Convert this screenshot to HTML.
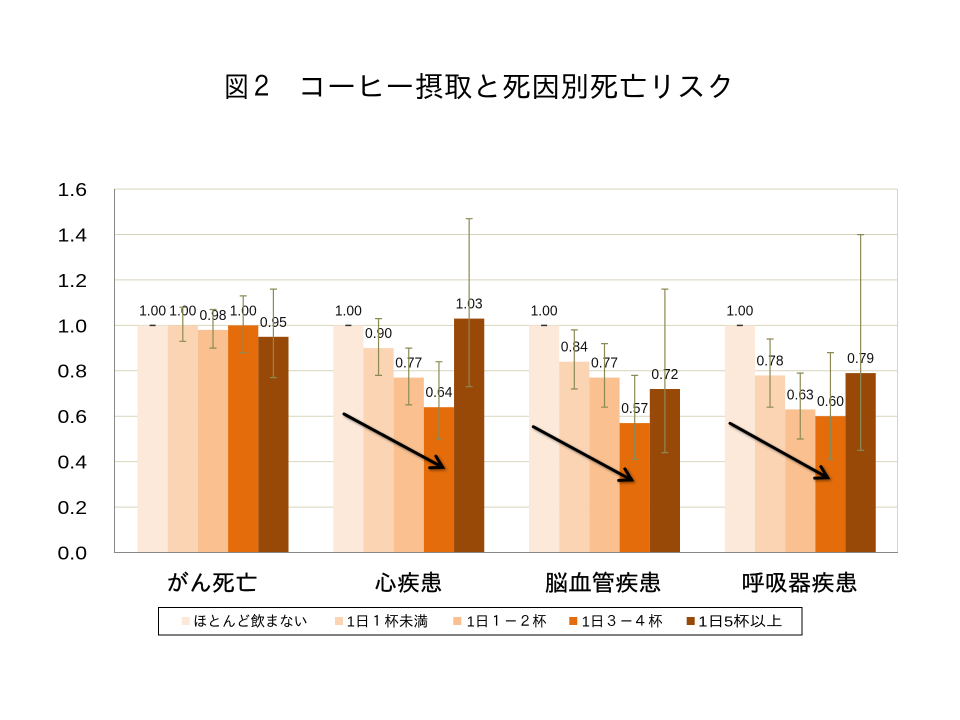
<!DOCTYPE html>
<html>
<head>
<meta charset="utf-8">
<style>
html,body{margin:0;padding:0;background:#fff;}
svg{display:block;}
.jp{font-family:"Liberation Sans","IPAGothic","Noto Sans CJK JP",sans-serif;}
.num{font-family:"Liberation Sans",sans-serif;}
</style>
</head>
<body>
<svg width="960" height="720" viewBox="0 0 960 720" xmlns="http://www.w3.org/2000/svg">
<defs>
<filter id="sh" x="-20%" y="-20%" width="140%" height="140%">
<feDropShadow dx="1.5" dy="1.5" stdDeviation="1.2" flood-color="#000" flood-opacity="0.45"/>
</filter>
</defs>
<rect width="960" height="720" fill="#fff"/>

<!-- title -->
<text class="jp" x="224" y="97" font-size="29" textLength="50" lengthAdjust="spacingAndGlyphs" fill="#000">図２</text>
<text class="jp" x="298" y="97" font-size="29" textLength="437" lengthAdjust="spacingAndGlyphs" fill="#000">コーヒー摂取と死因別死亡リスク</text>

<!-- gridlines -->
<g stroke="#D9D4BC" stroke-width="1">
<line x1="114" y1="189.1" x2="897.5" y2="189.1"/>
<line x1="114" y1="234.5" x2="897.5" y2="234.5"/>
<line x1="114" y1="279.9" x2="897.5" y2="279.9"/>
<line x1="114" y1="325.4" x2="897.5" y2="325.4"/>
<line x1="114" y1="370.8" x2="897.5" y2="370.8"/>
<line x1="114" y1="416.2" x2="897.5" y2="416.2"/>
<line x1="114" y1="461.6" x2="897.5" y2="461.6"/>
<line x1="114" y1="507.1" x2="897.5" y2="507.1"/>
<line x1="897.5" y1="189.1" x2="897.5" y2="552.5"/>
</g>

<!-- y tick labels -->
<g class="num" font-size="18.5" fill="#000" text-anchor="end">
<text x="87" y="196" textLength="29.5" lengthAdjust="spacingAndGlyphs">1.6</text>
<text x="87" y="241.4" textLength="29.5" lengthAdjust="spacingAndGlyphs">1.4</text>
<text x="87" y="286.8" textLength="29.5" lengthAdjust="spacingAndGlyphs">1.2</text>
<text x="87" y="332.3" textLength="29.5" lengthAdjust="spacingAndGlyphs">1.0</text>
<text x="87" y="377.7" textLength="29.5" lengthAdjust="spacingAndGlyphs">0.8</text>
<text x="87" y="423.1" textLength="29.5" lengthAdjust="spacingAndGlyphs">0.6</text>
<text x="87" y="468.5" textLength="29.5" lengthAdjust="spacingAndGlyphs">0.4</text>
<text x="87" y="514" textLength="29.5" lengthAdjust="spacingAndGlyphs">0.2</text>
<text x="87" y="559.4" textLength="29.5" lengthAdjust="spacingAndGlyphs">0.0</text>
</g>

<!-- bars -->
<g>
<rect x="137.5" y="325.4" width="30.2" height="227.1" fill="#FDE9D9"/>
<rect x="167.7" y="325.4" width="30.2" height="227.1" fill="#FBD4B4"/>
<rect x="197.9" y="329.9" width="30.2" height="222.6" fill="#FAC090"/>
<rect x="228.1" y="325.4" width="30.2" height="227.1" fill="#E46C0A"/>
<rect x="258.3" y="336.8" width="30.2" height="215.7" fill="#984807"/>

<rect x="333.25" y="325.4" width="30.2" height="227.1" fill="#FDE9D9"/>
<rect x="363.45" y="348.1" width="30.2" height="204.4" fill="#FBD4B4"/>
<rect x="393.65" y="377.6" width="30.2" height="174.9" fill="#FAC090"/>
<rect x="423.85" y="407.2" width="30.2" height="145.3" fill="#E46C0A"/>
<rect x="454.05" y="318.6" width="30.2" height="233.9" fill="#984807"/>

<rect x="529" y="325.4" width="30.2" height="227.1" fill="#FDE9D9"/>
<rect x="559.2" y="361.7" width="30.2" height="190.8" fill="#FBD4B4"/>
<rect x="589.4" y="377.6" width="30.2" height="174.9" fill="#FAC090"/>
<rect x="619.6" y="423.1" width="30.2" height="129.4" fill="#E46C0A"/>
<rect x="649.8" y="389.0" width="30.2" height="163.5" fill="#984807"/>

<rect x="724.75" y="325.4" width="30.2" height="227.1" fill="#FDE9D9"/>
<rect x="754.95" y="375.4" width="30.2" height="177.1" fill="#FBD4B4"/>
<rect x="785.15" y="409.4" width="30.2" height="143.1" fill="#FAC090"/>
<rect x="815.35" y="416.2" width="30.2" height="136.3" fill="#E46C0A"/>
<rect x="845.55" y="373.1" width="30.2" height="179.4" fill="#984807"/>
</g>

<!-- axes -->
<g stroke="#888888" stroke-width="1">
<line x1="114.5" y1="189" x2="114.5" y2="553"/>
<line x1="114" y1="552.5" x2="898" y2="552.5"/>
</g>

<!-- data labels -->
<g class="num" font-size="14.5" fill="#111" text-anchor="middle">
<text x="152.6" y="315.4" textLength="27" lengthAdjust="spacingAndGlyphs">1.00</text>
<text x="182.8" y="315.4" textLength="27" lengthAdjust="spacingAndGlyphs">1.00</text>
<text x="213" y="319.9" textLength="27" lengthAdjust="spacingAndGlyphs">0.98</text>
<text x="243.2" y="315.4" textLength="27" lengthAdjust="spacingAndGlyphs">1.00</text>
<text x="273.4" y="326.8" textLength="27" lengthAdjust="spacingAndGlyphs">0.95</text>

<text x="348.35" y="315.4" textLength="27" lengthAdjust="spacingAndGlyphs">1.00</text>
<text x="378.55" y="338.1" textLength="27" lengthAdjust="spacingAndGlyphs">0.90</text>
<text x="408.75" y="367.6" textLength="27" lengthAdjust="spacingAndGlyphs">0.77</text>
<text x="438.95" y="397.2" textLength="27" lengthAdjust="spacingAndGlyphs">0.64</text>
<text x="469.15" y="308.6" textLength="27" lengthAdjust="spacingAndGlyphs">1.03</text>

<text x="544.1" y="315.4" textLength="27" lengthAdjust="spacingAndGlyphs">1.00</text>
<text x="574.3" y="351.7" textLength="27" lengthAdjust="spacingAndGlyphs">0.84</text>
<text x="604.5" y="367.6" textLength="27" lengthAdjust="spacingAndGlyphs">0.77</text>
<text x="634.7" y="413.1" textLength="27" lengthAdjust="spacingAndGlyphs">0.57</text>
<text x="664.9" y="379" textLength="27" lengthAdjust="spacingAndGlyphs">0.72</text>

<text x="739.85" y="315.4" textLength="27" lengthAdjust="spacingAndGlyphs">1.00</text>
<text x="770.05" y="365.4" textLength="27" lengthAdjust="spacingAndGlyphs">0.78</text>
<text x="800.25" y="399.4" textLength="27" lengthAdjust="spacingAndGlyphs">0.63</text>
<text x="830.45" y="406.2" textLength="27" lengthAdjust="spacingAndGlyphs">0.60</text>
<text x="860.65" y="363.1" textLength="27" lengthAdjust="spacingAndGlyphs">0.79</text>
</g>

<!-- error bars -->
<g stroke="#8B8A55" stroke-width="1.2" fill="none">
<path d="M182.8 307.2V341.3M179.3 307.2H186.3M179.3 341.3H186.3"/>
<path d="M213 309.5V348.1M209.5 309.5H216.5M209.5 348.1H216.5"/>
<path d="M243.2 295.9V352.6M239.7 295.9H246.7M239.7 352.6H246.7"/>
<path d="M273.4 289.1V377.6M269.9 289.1H276.9M269.9 377.6H276.9"/>

<path d="M378.55 318.6V375.4M375.05 318.6H382.05M375.05 375.4H382.05"/>
<path d="M408.75 348.1V404.9M405.25 348.1H412.25M405.25 404.9H412.25"/>
<path d="M438.95 361.7V439M435.45 361.7H442.45M435.45 439H442.45"/>
<path d="M469.15 218.7V386.7M465.65 218.7H472.65M465.65 386.7H472.65"/>

<path d="M574.3 329.9V389M570.8 329.9H577.8M570.8 389H577.8"/>
<path d="M604.5 343.6V407.2M601 343.6H608M601 407.2H608"/>
<path d="M634.7 375.4V459.4M631.2 375.4H638.2M631.2 459.4H638.2"/>
<path d="M664.9 289.1V452.6M661.4 289.1H668.4M661.4 452.6H668.4"/>

<path d="M770.05 339V407.2M766.55 339H773.55M766.55 407.2H773.55"/>
<path d="M800.25 373.1V439M796.75 373.1H803.75M796.75 439H803.75"/>
<path d="M830.45 352.6V459.4M826.95 352.6H833.95M826.95 459.4H833.95"/>
<path d="M860.65 234.6V450.3M857.15 234.6H864.15M857.15 450.3H864.15"/>
</g>
<g stroke="#333" stroke-width="1.5">
<line x1="149.6" y1="325.4" x2="155.6" y2="325.4"/>
<line x1="345.35" y1="325.4" x2="351.35" y2="325.4"/>
<line x1="541.1" y1="325.4" x2="547.1" y2="325.4"/>
<line x1="736.85" y1="325.4" x2="742.85" y2="325.4"/>
</g>

<!-- arrows -->
<g stroke="#000" stroke-width="3" fill="none" stroke-linecap="round" stroke-linejoin="miter" filter="url(#sh)">
<line x1="344" y1="414" x2="441.5" y2="466.7"/>
<polyline points="435.9,456.2 442.7,467.3 429.7,467.7"/>
<line x1="533.3" y1="426.7" x2="630.5" y2="479.4"/>
<polyline points="624.9,468.9 631.7,480 618.7,480.4"/>
<line x1="730" y1="423.3" x2="826.5" y2="477.1"/>
<polyline points="820.9,466.6 827.7,477.7 814.7,478.1"/>
</g>

<!-- category labels -->
<g class="jp" font-size="23" fill="#000" text-anchor="middle" stroke="#000" stroke-width="0.3">
<text x="212" y="591" textLength="92" lengthAdjust="spacingAndGlyphs">がん死亡</text>
<text x="408.5" y="591" textLength="68" lengthAdjust="spacingAndGlyphs">心疾患</text>
<text x="603.4" y="591" textLength="116.7" lengthAdjust="spacingAndGlyphs">脳血管疾患</text>
<text x="799.6" y="591" textLength="116.7" lengthAdjust="spacingAndGlyphs">呼吸器疾患</text>
</g>

<!-- legend -->
<rect x="158.5" y="607.5" width="643.5" height="27.5" fill="#fff" stroke="#000" stroke-width="1"/>
<rect x="181.7" y="617" width="8" height="8" fill="#FDE9D9"/>
<rect x="335" y="617" width="8" height="8" fill="#FBD4B4"/>
<rect x="453.3" y="617" width="8" height="8" fill="#FAC090"/>
<rect x="569.3" y="617" width="8" height="8" fill="#E46C0A"/>
<rect x="686.7" y="617" width="8" height="8" fill="#984807"/>
<g class="jp" font-size="15" fill="#000">
<text x="193" y="626.5" textLength="115" lengthAdjust="spacingAndGlyphs">ほとんど飲まない</text>
<text x="346.7" y="626.5" textLength="81.6" lengthAdjust="spacingAndGlyphs">1日１杯未満</text>
<text x="466.7" y="626.5" textLength="80" lengthAdjust="spacingAndGlyphs">1日１－２杯</text>
<text x="581.7" y="626.5" textLength="81" lengthAdjust="spacingAndGlyphs">1日３－４杯</text>
<text x="698.3" y="626.5" textLength="84.4" lengthAdjust="spacingAndGlyphs">1日5杯以上</text>
</g>
</svg>
</body>
</html>
